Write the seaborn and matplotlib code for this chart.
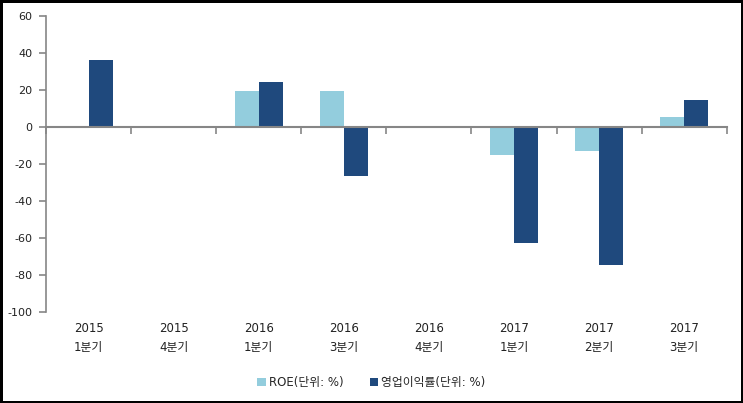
import matplotlib
matplotlib.use("Agg")
import matplotlib.pyplot as plt
import seaborn as sns
import pandas as pd

categories = ["2015\n1분기", "2015\n4분기", "2016\n1분기", "2016\n3분기",
              "2016\n4분기", "2017\n1분기", "2017\n2분기", "2017\n3분기"]
roe = [0, 0, 19.5, 19.5, 0, -15.3, -13.2, 5.6]
op_margin = [36.5, 0, 24.5, -26.3, 0, -62.5, -74.4, 14.8]
series_names = ["ROE(단위: %)", "영업이익률(단위: %)"]
colors = ["#93CDDD", "#1F497D"]
yticks = [60, 40, 20, 0, -20, -40, -60, -80, -100]

sns.set_theme(style="white")
plt.rcParams['font.family'] = ['DejaVu Sans', 'Noto Sans CJK KR']

df = pd.DataFrame({
    "cat": categories * 2,
    "value": roe + op_margin,
    "series": [series_names[0]] * len(categories) + [series_names[1]] * len(categories),
})

fig = plt.figure(figsize=(7.43, 4.03), dpi=100, edgecolor="black", linewidth=2.5)
ax = fig.add_axes([0.062, 0.226, 0.916, 0.734])
sns.barplot(data=df, x="cat", y="value", hue="series", palette=colors,
            width=0.565, saturation=1, ax=ax, legend=True, errorbar=None,
            linewidth=0, edgecolor="none", gap=0)

ax.set_ylim(-100, 60)
ax.set_xlim(-0.5, len(categories) - 0.5)
ax.set_yticks(yticks)
ax.set_yticklabels([str(v) for v in yticks], fontsize=8, color="#222222")
ax.set_xlabel("")
ax.set_ylabel("")

grey = "#868686"
for s in ["top", "right"]:
    ax.spines[s].set_visible(False)
ax.spines["left"].set_color(grey)
ax.spines["left"].set_linewidth(1.2)
ax.spines["bottom"].set_position(("data", 0))
ax.spines["bottom"].set_color(grey)
ax.spines["bottom"].set_linewidth(1.5)
ax.tick_params(axis="y", direction="out", length=5, color=grey, width=1.2, left=True, pad=5)
ax.set_xticks([i - 0.5 for i in range(len(categories) + 1)])
ax.set_xticklabels([])
ax.tick_params(axis="x", direction="out", length=5, color=grey, width=1.2, bottom=True)

sec = ax.secondary_xaxis("bottom")
sec.spines["bottom"].set_visible(False)
sec.set_xticks(range(len(categories)))
sec.set_xticklabels(categories, fontsize=8.5, linespacing=1.6, color="#222222")
sec.tick_params(axis="x", length=0, pad=7)

handles, labels = ax.get_legend_handles_labels()
ax.legend(handles, labels, loc="center", bbox_to_anchor=(0.5, 0.05),
          bbox_transform=fig.transFigure, ncol=2, frameon=False, fontsize=8.5,
          handlelength=0.7, handleheight=0.7, handletextpad=0.3, columnspacing=2.2)

fig.savefig("out.png", dpi=100, edgecolor=fig.get_edgecolor())
